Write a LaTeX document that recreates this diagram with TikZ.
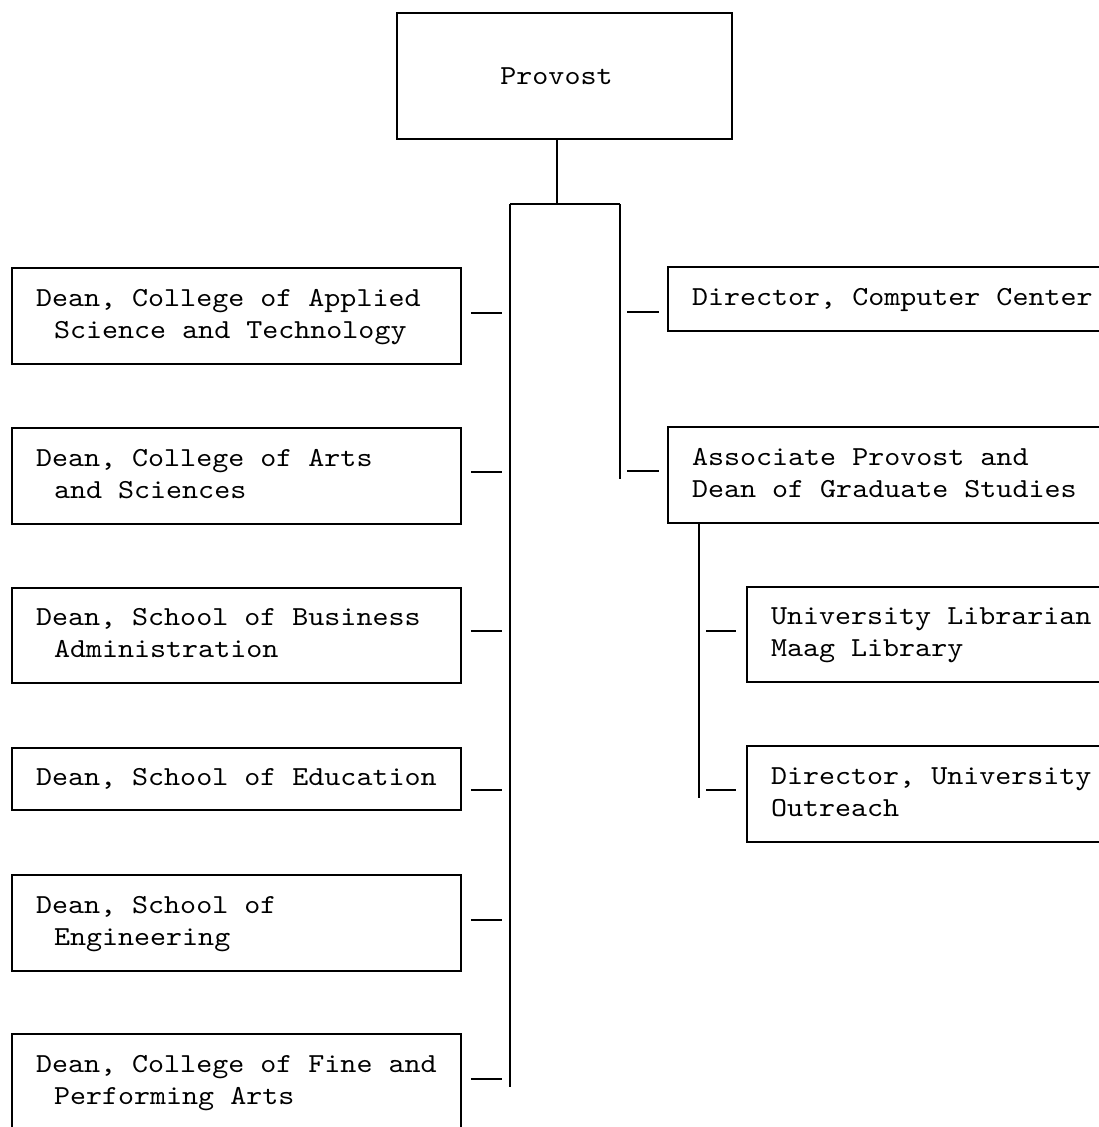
\documentclass[tikz,border=0pt]{standalone}
\usepackage{fontspec}
\usepackage{array}
\setmonofont{lmmono10-regular}[Extension=.otf, FakeStretch=1.11]
\usetikzlibrary{calc}
\newcommand{\orgfont}{\ttfamily\fontsize{27.5}{32}\selectfont}
\newcommand{\orglines}[1]{\raisebox{-2pt}{\begin{tabular}{@{}>{\frenchspacing\spaceskip=16.03pt\relax\xspaceskip=16.03pt\relax}l@{}}#1\end{tabular}}}
\newcommand{\orgindent}{\hspace*{18pt}}
\begin{document}
\begin{tikzpicture}[x=1pt,y=-1pt,
  orgbox/.style={draw, line width=1.8pt, rectangle, inner xsep=0pt, inner ysep=0pt,
    align=left, font=\orgfont},
  leftbox/.style={orgbox, minimum width=449, text width=401},
  rightbox/.style={orgbox, minimum width=460, text width=412},
  link/.style={line width=1.8pt}]
\useasboundingbox (0,0) rectangle (1099,1127);
\fill[white] (0,0) rectangle (1099,1127);
\clip (0,0) rectangle (1099,1127);

% Provost
\node[orgbox, align=center, minimum width=335, minimum height=126] (prov) at (564.5,76) {Provost\hspace*{16pt}};

% left column
\node[leftbox, minimum height=96] (d1) at (236.5,316) {\orglines{Dean, College of Applied\\\orgindent Science and Technology}};
\node[leftbox, minimum height=96] (d2) at (236.5,476) {\orglines{Dean, College of Arts\\\orgindent and Sciences}};
\node[leftbox, minimum height=95] (d3) at (236.5,635.5) {\orglines{Dean, School of Business\\\orgindent Administration}};
\node[leftbox, minimum height=62] (d4) at (236.5,779) {\orglines{Dean, School of Education}};
\node[leftbox, minimum height=96] (d5) at (236.5,923) {\orglines{Dean, School of\\\orgindent Engineering}};
\node[leftbox, minimum height=96] (d6) at (236.5,1082) {\orglines{Dean, College of Fine and\\\orgindent Performing Arts}};

% right column
\node[rightbox, minimum height=64] (cc) at (898,299) {\orglines{Director, Computer Center}};
\node[rightbox, minimum height=96] (ap) at (898,475) {\orglines{Associate Provost and\\Dean of Graduate Studies}};
\node[rightbox, minimum height=95] (lib) at (977,634.5) {\orglines{University Librarian\\Maag Library}};
\node[rightbox, minimum height=96] (out) at (977,794) {\orglines{Director, University\\Outreach}};

% trunks
\coordinate (top) at (557,204);
\coordinate (lt) at (510,204);
\coordinate (rt) at (620,204);
\coordinate (lb) at (510,1087);
\coordinate (rb) at (620,479);
\coordinate (sb) at (699,798);

\draw[link] (prov.south -| top) -- (top);
\draw[link] (lt) -- (rt);
\draw[link] (lt) -- (lb);
\draw[link] (rt) -- (rb);
\draw[link] (ap.south -| sb) -- (sb);

% ticks, left column
\draw[link] ($(d1.east)+(9,-3)$) -- ++(31,0);
\draw[link] ($(d2.east)+(9,-4)$) -- ++(31,0);
\draw[link] ($(d3.east)+(9,-4.5)$) -- ++(31,0);
\draw[link] ($(d4.east)+(9,11)$) -- ++(31,0);
\draw[link] ($(d5.east)+(9,-3)$) -- ++(31,0);
\draw[link] ($(d6.east)+(9,-3)$) -- ++(31,0);

% ticks, right column
\draw[link] ($(cc.west)+(-40,13)$) -- ++(32,0);
\draw[link] ($(ap.west)+(-40,-4)$) -- ++(32,0);
\draw[link] ($(lib.west)+(-40,-3.5)$) -- ++(30,0);
\draw[link] ($(out.west)+(-40,-4)$) -- ++(30,0);
\end{tikzpicture}
\end{document}
